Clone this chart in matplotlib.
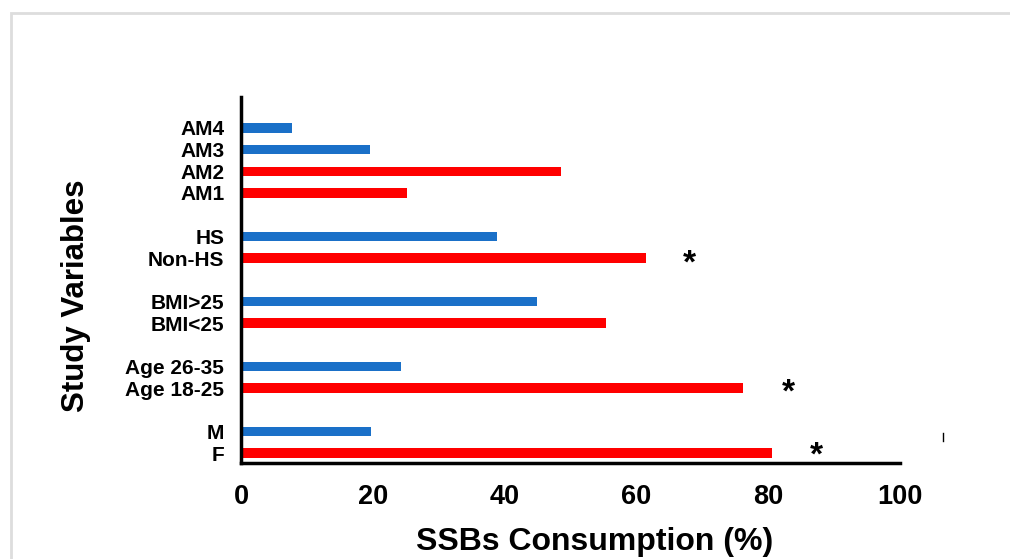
import matplotlib.pyplot as plt
from matplotlib.patches import Rectangle
from matplotlib.lines import Line2D

plt.rcParams['font.family'] = ['Liberation Sans', 'DejaVu Sans']
plt.rcParams['font.weight'] = 'bold'

# bottom to top, blank rows between groups
labels = ['F', 'M', 'Age 18-25', 'Age 26-35', 'BMI<25', 'BMI>25',
          'Non-HS', 'HS', 'AM1', 'AM2', 'AM3', 'AM4']
positions = [0, 1, 3, 4, 6, 7, 9, 10, 12, 13, 14, 15]
values = [80.6, 19.7, 76.2, 24.3, 55.4, 44.9, 61.5, 38.8, 25.2, 48.6, 19.6, 7.7]
red = '#ff0000'
blue = '#1a70c8'
colors = [red, blue, red, blue, red, blue, red, blue, red, red, blue, blue]

# significance markers (x, row)
star_x = [87.25, 83.0, 68.1]
star_y = [0.18, 3.05, 9.0]

fig = plt.figure(figsize=(10.10, 5.59), dpi=100)
ax = fig.add_axes([241/1010, 1 - 463/559, (900-241)/1010, (463-97)/559])

ax.barh(positions, values, height=0.42, color=colors)

# the glyph sits high in its box, so nudge it down
for x, y in zip(star_x, star_y):
    ax.text(x, y - 0.3, '*', fontsize=24, fontweight='bold', ha='center', va='center')

ax.set_xlim(0, 100)
ax.set_ylim(-0.46, 16.43)
ax.set_yticks(positions)
ax.set_yticklabels(labels, fontsize=15, fontweight='bold')
ax.set_xticks([0, 20, 40, 60, 80, 100])
ax.tick_params(axis='both', length=0)
ax.tick_params(axis='x', labelsize=19.5, pad=15)
ax.tick_params(axis='y', pad=12)

for side in ['top', 'right']:
    ax.spines[side].set_visible(False)
for side in ['left', 'bottom']:
    ax.spines[side].set_linewidth(2.5)

ax.set_xlabel('SSBs Consumption (%)', fontsize=23, fontweight='bold')
ax.set_ylabel('Study Variables', fontsize=22.5, fontweight='bold')
ax.xaxis.set_label_coords(0.537, -0.174)
ax.yaxis.set_label_coords(-0.228, 0.456)

# light frame round the figure and the stray tick mark
fig.add_artist(Rectangle((11/1010, -0.1), 1.1, 1 - 13/559 + 0.1, transform=fig.transFigure,
                         fill=False, edgecolor='#dddddd', linewidth=2))
fig.add_artist(Line2D([943/1010, 943/1010], [1 - 433/559, 1 - 441/559],
                      transform=fig.transFigure, color='black', linewidth=1))

fig.savefig('out.png', dpi=100)
